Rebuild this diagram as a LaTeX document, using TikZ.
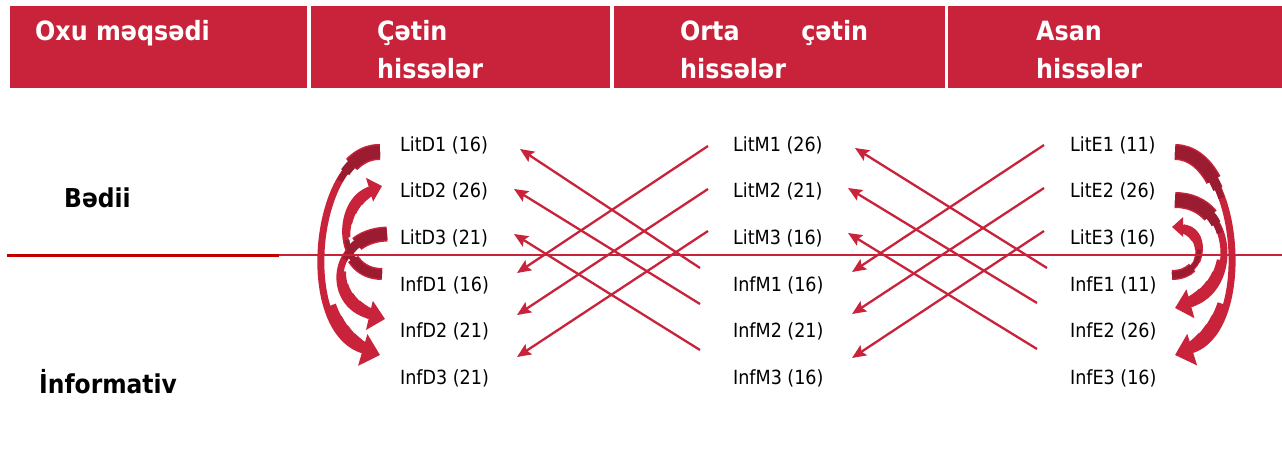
\documentclass[tikz,border=0pt]{standalone}
\usepackage{fontspec}
\setmainfont{DejaVu Sans Condensed}
\usetikzlibrary{arrows.meta,calc}
\definecolor{crim}{HTML}{C8233A}
\definecolor{crimdark}{HTML}{9B1B30}
\definecolor{linered}{HTML}{C00000}
% #1 tail, #2 ctrl1 (rel. tail), #3 ctrl2 (rel. tip), #4 tip, #5 mid width,
% #6 tail width, #7 tail length, #8 head length, #9 head width
\newcommand\ribbonarrow[9]{%
  \draw[crim, line width=#5, -{Triangle[length=#8,width=#9]}] #1 .. controls #2 and #3 .. #4;
  \draw[crim, line width=#5+4pt, dash pattern=on 0pt off #8 on 16pt off 2000pt] #4 .. controls #3 and #2 .. #1;
  \draw[crim, line width=#5+3pt, dash pattern=on 0pt off #8 on 28pt off 2000pt] #4 .. controls #3 and #2 .. #1;
  \draw[crim, line width=#5+2pt, dash pattern=on 0pt off #8 on 40pt off 2000pt] #4 .. controls #3 and #2 .. #1;
  \draw[crim, line width=#5+1pt, dash pattern=on 0pt off #8 on 54pt off 2000pt] #4 .. controls #3 and #2 .. #1;
  \draw[crim, line width=#6, dash pattern=on #7 off 2000pt] #1 .. controls #2 and #3 .. #4;
  \draw[crimdark, line width=#6-3pt, dash pattern=on #7 off 2000pt] #1 .. controls #2 and #3 .. #4;
  \draw[crimdark, line width=#6-6pt, dash pattern=on 0pt off #7 on 10pt off 2000pt] #1 .. controls #2 and #3 .. #4;
  \draw[crimdark, line width=#5-1pt, dash pattern=on 0pt off #7 on 20pt off 2000pt] #1 .. controls #2 and #3 .. #4;
}
\begin{document}
\begin{tikzpicture}[x=1pt,y=-1pt,
  htext/.style={anchor=base west, inner sep=0pt, text=white, font=\bfseries\fontsize{26.5}{30}\selectfont},
  side/.style={anchor=base west, inner sep=0pt, font=\bfseries\fontsize{26}{30}\selectfont},
  lbl/.style={anchor=west, inner sep=0pt, text height=14pt, text depth=0pt, font=\fontsize{19.5}{22}\selectfont},
  xarr/.style={crim, line width=2.3pt, -{Stealth[length=14pt,width=12pt,inset=2.5pt]}}
]
\useasboundingbox (0,0) rectangle (1282,455);

% header
\fill[crim] (10,6) rectangle (307,88);
\fill[crim] (311,6) rectangle (610,88);
\fill[crim] (614,6) rectangle (945,88);
\fill[crim] (948,6) rectangle (1282,88);
\node[htext] (h1) at (35,40) {Oxu məqsədi};
\node[htext] (h2a) at (377,40) {Çətin};
\node[htext] (h2b) at (377,78) {hissələr};
\node[htext] (h3a) at (680,40) {\makebox[188pt][s]{Orta çətin}};
\node[htext] (h3b) at (680,78) {hissələr};
\node[htext] (h4a) at (1036,40) {Asan};
\node[htext] (h4b) at (1036,78) {hissələr};

% side labels
\node[side] (bed) at (64,207) {Bədii};
\node[side] (inf) at (39,393) {İnformativ};

% item labels
\node[lbl] (LitD1) at (400,144) {LitD1 (16)};
\node[lbl] (LitD2) at (400,190) {LitD2 (26)};
\node[lbl] (LitD3) at (400,237) {LitD3 (21)};
\node[lbl] (InfD1) at (400,284) {InfD1 (16)};
\node[lbl] (InfD2) at (400,330) {InfD2 (21)};
\node[lbl] (InfD3) at (400,377) {InfD3 (21)};
\node[lbl] (LitM1) at (733,144) {LitM1 (26)};
\node[lbl] (LitM2) at (733,190) {LitM2 (21)};
\node[lbl] (LitM3) at (733,237) {LitM3 (16)};
\node[lbl] (InfM1) at (733,284) {InfM1 (16)};
\node[lbl] (InfM2) at (733,330) {InfM2 (21)};
\node[lbl] (InfM3) at (733,377) {InfM3 (16)};
\node[lbl] (LitE1) at (1070,144) {LitE1 (11)};
\node[lbl] (LitE2) at (1070,190) {LitE2 (26)};
\node[lbl] (LitE3) at (1070,237) {LitE3 (16)};
\node[lbl] (InfE1) at (1070,284) {InfE1 (11)};
\node[lbl] (InfE2) at (1070,330) {InfE2 (26)};
\node[lbl] (InfE3) at (1070,377) {InfE3 (16)};

% curved ribbon arrows, left
\ribbonarrow{([shift={(-20,8)}]LitD1.west)}{+(-65,-2)}{+(-85,-25)}{([shift={(-20,-22)}]InfD3.west)}{7pt}{16pt}{32pt}{18pt}{32pt}
\ribbonarrow{([shift={(-18,-10)}]InfD1.west)}{+(-47,0)}{+(-47,14)}{([shift={(-18,-4)}]LitD2.west)}{6pt}{12pt}{34pt}{13pt}{24pt}
\ribbonarrow{([shift={(-13,-3)}]LitD3.west)}{+(-57,2)}{+(-60,-14)}{([shift={(-15,-11)}]InfD2.west)}{7pt}{15pt}{32pt}{16pt}{29pt}

% curved ribbon arrows, right
\ribbonarrow{([shift={(105,8)}]LitE1.west)}{+(65,0)}{+(80,-25)}{([shift={(105,-22)}]InfE3.west)}{7pt}{16pt}{50pt}{18pt}{32pt}
\ribbonarrow{([shift={(105,10)}]LitE2.west)}{+(60,0)}{+(65,-18)}{([shift={(105,-22)}]InfE2.west)}{7pt}{16pt}{40pt}{16pt}{29pt}
\ribbonarrow{([shift={(102,-9)}]InfE1.west)}{+(36,0)}{+(36,0)}{([shift={(102,-10)}]LitE3.west)}{5pt}{10pt}{22pt}{11pt}{19pt}

% crossing arrows D-M
\draw[xarr] ([shift={(-33,-16)}]InfM1.west) -- ([shift={(120,5)}]LitD1.west);
\draw[xarr] ([shift={(-33,-26)}]InfM2.west) -- ([shift={(114,-1)}]LitD2.west);
\draw[xarr] ([shift={(-33,-27)}]InfM3.west) -- ([shift={(114,-3)}]LitD3.west);
\draw[xarr] ([shift={(-25,2)}]LitM1.west) -- ([shift={(117,-11)}]InfD1.west);
\draw[xarr] ([shift={(-25,-1)}]LitM2.west) -- ([shift={(117,-15)}]InfD2.west);
\draw[xarr] ([shift={(-25,-6)}]LitM3.west) -- ([shift={(117,-20)}]InfD3.west);

% crossing arrows M-E
\draw[xarr] ([shift={(-23,-16)}]InfE1.west) -- ([shift={(122,4)}]LitM1.west);
\draw[xarr] ([shift={(-33,-27)}]InfE2.west) -- ([shift={(115,-2)}]LitM2.west);
\draw[xarr] ([shift={(-33,-28)}]InfE3.west) -- ([shift={(115,-4)}]LitM3.west);
\draw[xarr] ([shift={(-26,1)}]LitE1.west) -- ([shift={(119,-12)}]InfM1.west);
\draw[xarr] ([shift={(-26,-2)}]LitE2.west) -- ([shift={(119,-16)}]InfM2.west);
\draw[xarr] ([shift={(-26,-6)}]LitE3.west) -- ([shift={(119,-19)}]InfM3.west);

% divider line
\draw[linered, line width=3pt] (7,255) -- (279,255);
\draw[crim, line width=2pt] (279,255) -- (1282,255);
\end{tikzpicture}
\end{document}
